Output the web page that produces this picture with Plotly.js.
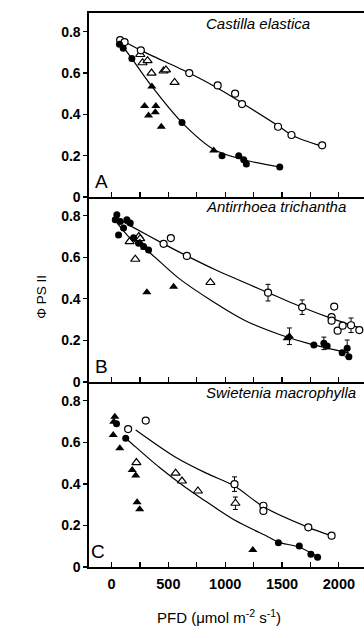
<!DOCTYPE html>
<html><head><meta charset="utf-8">
<script src="https://cdn.plot.ly/plotly-3.0.1.min.js"></script>
<style>html,body{margin:0;padding:0;background:#fff;overflow:hidden}</style>
</head><body><div id="chart" style="width:364px;height:638px"></div>
<script>
// ---------- Panel A: Castilla elastica ----------
const A_openCircle_x = [76,115,258,684,934,1087,1148,1465,1583,1853];
const A_openCircle_y = [0.76,0.75,0.71,0.60,0.54,0.50,0.45,0.34,0.30,0.25];
const A_fillCircle_x = [70,103,179,620,972,1119,1163,1186,1480];
const A_fillCircle_y = [0.74,0.72,0.67,0.36,0.20,0.20,0.18,0.16,0.145];
const A_openTri_x = [253,273,317,352,458,479,555];
const A_openTri_y = [0.69,0.65,0.66,0.60,0.61,0.615,0.555];
const A_fillTri_x = [355,291,326,390,385,438,899];
const A_fillTri_y = [0.535,0.44,0.395,0.44,0.41,0.34,0.225];
const A_fitHigh_x = [70,258,684,940,1148,1465,1600,1853];
const A_fitHigh_y = [0.765,0.71,0.60,0.525,0.455,0.345,0.295,0.245];
const A_fitLow_x = [60,179,355,620,900,1163,1480];
const A_fitLow_y = [0.76,0.67,0.535,0.36,0.23,0.18,0.145];

// ---------- Panel B: Antirrhoea trichantha ----------
const B_openCircle_x = [458,522,663,1377,1677,1959,1936,1936,1989,2033,2107,2180];
const B_openCircle_y = [0.665,0.693,0.607,0.43,0.36,0.363,0.312,0.295,0.247,0.271,0.273,0.25];
const B_openCircle_err = [0,0,0,0.04,0.035,0,0,0,0,0,0.035,0];
const B_fillCircle_x = [47,33,77,135,106,165,62,194,238,282,326,1780,1868,1897,2029,2073,2088];
const B_fillCircle_y = [0.805,0.781,0.773,0.781,0.741,0.765,0.708,0.694,0.668,0.652,0.636,0.178,0.186,0.173,0.141,0.162,0.122];
const B_fillCircle_err = [0,0,0,0,0,0,0,0,0,0,0,0,0.03,0,0,0.04,0];
const B_openTri_x = [159,209,240,252,870];
const B_openTri_y = [0.676,0.591,0.70,0.69,0.479];
const B_fillTri_x = [250,294,311,546,1545,1565];
const B_fillTri_y = [0.672,0.648,0.432,0.459,0.21,0.22];
const B_fillTri_err = [0,0,0,0,0,0.04];
const B_fitHigh_x = [44,179,458,663,914,1377,1677,1941,2210];
const B_fitHigh_y = [0.79,0.748,0.665,0.607,0.54,0.43,0.36,0.305,0.255];
const B_fitLow_x = [29,150,341,590,884,1178,1471,1736,2088];
const B_fitLow_y = [0.78,0.70,0.62,0.50,0.39,0.295,0.23,0.185,0.14];

// ---------- Panel C: Swietenia macrophylla ----------
const C_openCircle_x = [146,301,1082,1336,1336,1731,1936];
const C_openCircle_y = [0.664,0.705,0.399,0.295,0.27,0.191,0.151];
const C_openCircle_err = [0,0,0.035,0,0,0,0];
const C_fillCircle_x = [44,125,1468,1652,1754,1813];
const C_fillCircle_y = [0.69,0.62,0.117,0.101,0.061,0.047];
const C_openTri_x = [219,564,620,760,1090];
const C_openTri_y = [0.503,0.452,0.414,0.366,0.307];
const C_openTri_err = [0,0,0,0,0.03];
const C_fillTri_x = [29,20,15,73,182,213,225,248,1243];
const C_fillTri_y = [0.724,0.70,0.636,0.572,0.467,0.441,0.312,0.278,0.082];
const C_fitHigh_x = [213,560,833,1082,1336,1731,1936];
const C_fitHigh_y = [0.66,0.53,0.452,0.39,0.29,0.191,0.15];
const C_fitLow_x = [125,175,420,658,789,1082,1375,1468,1652,1813];
const C_fitLow_y = [0.62,0.596,0.48,0.38,0.331,0.226,0.146,0.12,0.095,0.05];

const panelTitles = ['Castilla elastica','Antirrhoea trichantha','Swietenia macrophylla'];
const panelLetters = ['A','B','C'];
const xTickVals = [0,500,1000,1500,2000];
const yTickVals = [0,0.2,0.4,0.6,0.8];

const traces = [];
function fit(x,y,ax){traces.push({x:x,y:y,xaxis:'x'+ax,yaxis:'y'+ax,mode:'lines',
  line:{color:'#000',width:1.2,shape:'spline',smoothing:0.8},hoverinfo:'skip',showlegend:false});}
function pts(x,y,ax,sym,filled,err){
  const t={x:x,y:y,xaxis:'x'+ax,yaxis:'y'+ax,mode:'markers',showlegend:false,cliponaxis:false,
    marker:{symbol:sym,size:sym==='circle'?7:8,color:filled?'#000':'#fff',line:{color:'#000',width:filled?0:1.2}}};
  if(err){t.error_y={type:'data',array:err,visible:true,color:'#000',thickness:1,width:2.5};}
  traces.push(t);
}
// panel A
fit(A_fitHigh_x,A_fitHigh_y,'');fit(A_fitLow_x,A_fitLow_y,'');
pts(A_openTri_x,A_openTri_y,'','triangle-up',false);
pts(A_fillTri_x,A_fillTri_y,'','triangle-up',true);
pts(A_openCircle_x,A_openCircle_y,'','circle',false);
pts(A_fillCircle_x,A_fillCircle_y,'','circle',true);
// panel B
fit(B_fitHigh_x,B_fitHigh_y,'2');fit(B_fitLow_x,B_fitLow_y,'2');
pts(B_openTri_x,B_openTri_y,'2','triangle-up',false);
pts(B_fillTri_x,B_fillTri_y,'2','triangle-up',true,B_fillTri_err);
pts(B_openCircle_x,B_openCircle_y,'2','circle',false,B_openCircle_err);
pts(B_fillCircle_x,B_fillCircle_y,'2','circle',true,B_fillCircle_err);
// panel C
fit(C_fitHigh_x,C_fitHigh_y,'3');fit(C_fitLow_x,C_fitLow_y,'3');
pts(C_openTri_x,C_openTri_y,'3','triangle-up',false,C_openTri_err);
pts(C_fillTri_x,C_fillTri_y,'3','triangle-up',true);
pts(C_openCircle_x,C_openCircle_y,'3','circle',false,C_openCircle_err);
pts(C_fillCircle_x,C_fillCircle_y,'3','circle',true);

const xTickFont = {family:'Liberation Sans, Arial, sans-serif',size:14.5,color:'#000',weight:'bold'};
const yTickFont = {family:'Liberation Sans, Arial, sans-serif',size:14,color:'#000',weight:'bold'};
function xax(anchor,labels,mirror){
  return {anchor:anchor,range:[-198,2221],showgrid:false,zeroline:false,showline:true,linecolor:'#000',linewidth:1.6,
    mirror:mirror,ticks:'inside',ticklen:5,tickwidth:1.2,tickcolor:'#000',tickvals:xTickVals,
    minor:{tick0:0,dtick:250,ticks:'inside',ticklen:5,tickwidth:1.2,tickcolor:'#000',showgrid:false},
    showticklabels:labels,tickfont:xTickFont,ticklabelstandoff:3,fixedrange:true};
}
function yax(anchor,domain){
  return {anchor:anchor,domain:domain,range:[0,0.891],showgrid:false,zeroline:false,showline:true,linecolor:'#000',
    linewidth:1.6,ticks:'outside',ticklen:4,tickwidth:1.2,tickcolor:'#000',tickvals:yTickVals,tickfont:yTickFont,fixedrange:true};
}
const annFont = {family:'Liberation Sans, Arial, sans-serif',color:'#000'};
const annotations = [];
const axSuffix = ['','2','3'];
const titleX = [1286,1445,1489];
const titleY = [0.838,0.843,0.839];
const letterX = [-84,-92,-115];
for(let i=0;i<3;i++){
  annotations.push({xref:'x'+axSuffix[i],yref:'y'+axSuffix[i],x:titleX[i],y:titleY[i],
    text:'<i>'+panelTitles[i]+'</i>',showarrow:false,font:Object.assign({size:15},annFont)});
  annotations.push({xref:'x'+axSuffix[i],yref:'y'+axSuffix[i],x:letterX[i],y:0.075,
    text:panelLetters[i],showarrow:false,font:Object.assign({size:19},annFont)});
}
annotations.push({xref:'paper',yref:'paper',x:-0.207,y:0.487,textangle:-90,text:'\u03A6 PS II',showarrow:false,
  font:Object.assign({size:13.5},annFont)});
annotations.push({xref:'paper',yref:'paper',x:0.473,y:-0.11,text:'PFD (\u03BCmol m<sup>-2</sup> s<sup>-1</sup>)',showarrow:false,
  font:Object.assign({size:15},annFont)});

const layout = {
  width:364,height:638,margin:{l:89,r:0,t:13,b:71},paper_bgcolor:'#fff',plot_bgcolor:'#fff',
  showlegend:false,
  xaxis:xax('y',false,true), yaxis:yax('x',[0.668,1]),
  xaxis2:xax('y2',false,false), yaxis2:yax('x2',[0.334,0.668]),
  xaxis3:xax('y3',true,false), yaxis3:yax('x3',[0,0.334]),
  annotations:annotations
};
Plotly.newPlot('chart',traces,layout,{staticPlot:true,displayModeBar:false});
</script></body></html>
